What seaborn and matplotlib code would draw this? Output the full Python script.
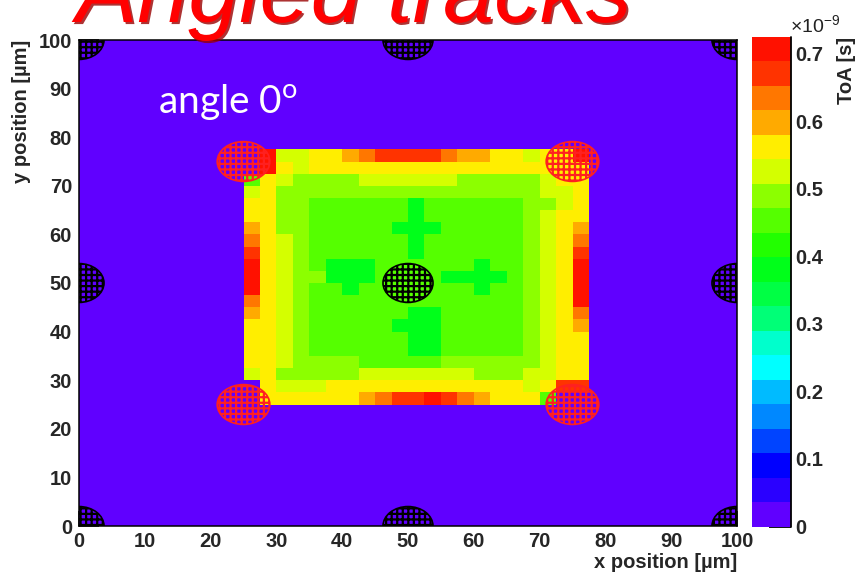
import numpy as np
import matplotlib
matplotlib.use("Agg")
import matplotlib.pyplot as plt
import matplotlib.patheffects as pe
from matplotlib.colors import ListedColormap
from matplotlib.patches import Ellipse
import seaborn as sns

# Binning of the map (µm)
BIN_UM = 2.5
N_BINS = 40
PIXEL_X0_UM = 25.0
PIXEL_Y0_UM = 25.0

# Time of arrival per 2.5 µm bin, in ns; rows run from y = 77.5 µm (top) down to y = 25 µm
toa_ns = [
    [0.00, 0.71, 0.52, 0.52, 0.56, 0.56, 0.60, 0.63, 0.67, 0.67, 0.67, 0.67, 0.63, 0.60, 0.60, 0.56, 0.56, 0.52, 0.56, 0.56, 0.71],
    [0.00, 0.71, 0.56, 0.52, 0.56, 0.56, 0.56, 0.56, 0.56, 0.56, 0.56, 0.56, 0.56, 0.56, 0.56, 0.56, 0.56, 0.56, 0.56, 0.56, 0.56],
    [0.45, 0.56, 0.52, 0.49, 0.49, 0.49, 0.49, 0.52, 0.52, 0.52, 0.52, 0.52, 0.52, 0.49, 0.49, 0.49, 0.49, 0.49, 0.52, 0.56, 0.56],
    [0.52, 0.56, 0.49, 0.49, 0.49, 0.49, 0.49, 0.49, 0.49, 0.49, 0.49, 0.49, 0.49, 0.49, 0.49, 0.49, 0.49, 0.49, 0.52, 0.52, 0.56],
    [0.56, 0.56, 0.49, 0.49, 0.45, 0.45, 0.45, 0.45, 0.45, 0.45, 0.39, 0.45, 0.45, 0.45, 0.45, 0.45, 0.45, 0.49, 0.49, 0.52, 0.56],
    [0.56, 0.56, 0.49, 0.49, 0.45, 0.45, 0.45, 0.45, 0.45, 0.45, 0.39, 0.45, 0.45, 0.45, 0.45, 0.45, 0.45, 0.49, 0.52, 0.56, 0.56],
    [0.60, 0.56, 0.49, 0.49, 0.45, 0.45, 0.45, 0.45, 0.45, 0.39, 0.39, 0.39, 0.45, 0.45, 0.45, 0.45, 0.45, 0.49, 0.52, 0.56, 0.60],
    [0.63, 0.56, 0.52, 0.49, 0.45, 0.45, 0.45, 0.45, 0.45, 0.45, 0.39, 0.45, 0.45, 0.45, 0.45, 0.45, 0.45, 0.49, 0.52, 0.56, 0.63],
    [0.67, 0.56, 0.52, 0.49, 0.45, 0.45, 0.45, 0.45, 0.45, 0.45, 0.39, 0.45, 0.45, 0.45, 0.45, 0.45, 0.45, 0.49, 0.52, 0.56, 0.67],
    [0.71, 0.56, 0.52, 0.49, 0.45, 0.39, 0.39, 0.39, 0.45, 0.45, 0.45, 0.45, 0.45, 0.45, 0.39, 0.45, 0.45, 0.49, 0.52, 0.56, 0.71],
    [0.71, 0.56, 0.52, 0.49, 0.49, 0.39, 0.39, 0.39, 0.45, 0.45, 0.45, 0.45, 0.39, 0.39, 0.39, 0.39, 0.45, 0.49, 0.52, 0.56, 0.71],
    [0.71, 0.56, 0.52, 0.49, 0.45, 0.45, 0.39, 0.45, 0.45, 0.45, 0.45, 0.45, 0.45, 0.45, 0.39, 0.45, 0.45, 0.49, 0.52, 0.56, 0.71],
    [0.63, 0.56, 0.52, 0.49, 0.45, 0.45, 0.45, 0.45, 0.45, 0.45, 0.45, 0.45, 0.45, 0.45, 0.45, 0.45, 0.45, 0.49, 0.52, 0.56, 0.71],
    [0.60, 0.56, 0.52, 0.49, 0.45, 0.45, 0.45, 0.45, 0.45, 0.45, 0.39, 0.39, 0.45, 0.45, 0.45, 0.45, 0.45, 0.49, 0.52, 0.56, 0.63],
    [0.56, 0.56, 0.52, 0.49, 0.45, 0.45, 0.45, 0.45, 0.45, 0.39, 0.39, 0.39, 0.45, 0.45, 0.45, 0.45, 0.45, 0.49, 0.52, 0.56, 0.60],
    [0.56, 0.56, 0.52, 0.49, 0.45, 0.45, 0.45, 0.45, 0.45, 0.45, 0.39, 0.39, 0.45, 0.45, 0.45, 0.45, 0.45, 0.49, 0.52, 0.56, 0.56],
    [0.56, 0.56, 0.52, 0.49, 0.45, 0.45, 0.45, 0.45, 0.45, 0.45, 0.39, 0.39, 0.45, 0.45, 0.45, 0.45, 0.45, 0.49, 0.52, 0.56, 0.56],
    [0.56, 0.56, 0.52, 0.49, 0.49, 0.49, 0.49, 0.45, 0.45, 0.45, 0.45, 0.45, 0.49, 0.49, 0.49, 0.49, 0.49, 0.49, 0.52, 0.56, 0.56],
    [0.52, 0.56, 0.49, 0.49, 0.49, 0.49, 0.49, 0.52, 0.52, 0.52, 0.52, 0.52, 0.52, 0.52, 0.49, 0.49, 0.49, 0.52, 0.52, 0.56, 0.56],
    [0.00, 0.56, 0.52, 0.52, 0.52, 0.56, 0.56, 0.56, 0.56, 0.56, 0.56, 0.56, 0.56, 0.56, 0.56, 0.56, 0.56, 0.52, 0.56, 0.67, 0.67],
    [0.00, 0.56, 0.56, 0.56, 0.56, 0.56, 0.56, 0.60, 0.63, 0.67, 0.67, 0.71, 0.67, 0.63, 0.60, 0.56, 0.56, 0.56, 0.45, 0.00, 0.00],
]

# 20-level rainbow palette, lowest level first
level_colors = [
    "#6000ff", "#2a00ff", "#0000ff", "#0044ff", "#0088ff",
    "#00bbff", "#00ffff", "#00ffcc", "#00ff77", "#00ff44",
    "#00ff1a", "#22ff00", "#55ff00", "#8cff00", "#d4ff00",
    "#ffee00", "#ffaa00", "#ff7700", "#ff3300", "#ff1100",
]
toa_max_ns = 0.725

cbar_ticks = [0.0, 0.1, 0.2, 0.3, 0.4, 0.5, 0.6, 0.7]
cbar_ticklabels = ["0", "0.1", "0.2", "0.3", "0.4", "0.5", "0.6", "0.7"]
axis_ticks_um = [0, 10, 20, 30, 40, 50, 60, 70, 80, 90, 100]
axis_ticklabels = [str(t) for t in axis_ticks_um]

# Bump-bond positions (µm)
bumps_black = [(0, 0), (50, 0), (100, 0), (0, 50), (50, 50), (100, 50),
               (0, 100), (50, 100), (100, 100)]
bumps_red = [(25, 25), (75, 25), (25, 75), (75, 75)]

# Full 100 x 100 µm map, row 0 at y = 0
toa_map = np.zeros((N_BINS, N_BINS))
pixel = np.array(toa_ns)[::-1]
r0 = int(PIXEL_Y0_UM / BIN_UM)
c0 = int(PIXEL_X0_UM / BIN_UM)
toa_map[r0:r0 + pixel.shape[0], c0:c0 + pixel.shape[1]] = pixel

sns.set_theme(style="white")
plt.rcParams["font.family"] = ["Liberation Sans", "DejaVu Sans"]
plt.rcParams["hatch.linewidth"] = 1.6

W, H = 862, 576
fig = plt.figure(figsize=(W / 100, H / 100), dpi=100)
ax = fig.add_axes([79 / W, 50 / H, 658 / W, 486 / H])
cax = fig.add_axes([752 / W, 49.5 / H, 39 / W, 489.5 / H])

sns.heatmap(toa_map, ax=ax, cbar_ax=cax, cmap=ListedColormap(level_colors),
            vmin=0, vmax=toa_max_ns, xticklabels=False, yticklabels=False)
ax.set_xlim(0, N_BINS)
ax.set_ylim(0, N_BINS)


def to_bin(v):
    return np.asarray(v, dtype=float) / BIN_UM


# Axis ticks in µm
ax.set_xticks(to_bin(axis_ticks_um))
ax.set_xticklabels(axis_ticklabels, rotation=0)
ax.set_yticks(to_bin(axis_ticks_um))
ax.set_yticklabels(axis_ticklabels, rotation=0)
ax.set_xticks(to_bin(np.arange(0, 101, 2)), minor=True)
ax.set_yticks(to_bin(np.arange(0, 101, 2)), minor=True)
ax.tick_params(which="both", direction="in", bottom=True, left=True,
               top=False, right=False, color="black", width=1.1)
ax.tick_params(axis="x", which="major", length=10.5, pad=4, labelsize=14.5)
ax.tick_params(axis="x", which="minor", length=5.2)
ax.tick_params(axis="y", which="major", length=14.5, pad=5, labelsize=14.5)
ax.tick_params(axis="y", which="minor", length=7.2)
for lbl in ax.get_xticklabels() + ax.get_yticklabels():
    lbl.set_fontweight("bold")
for sp in ax.spines.values():
    sp.set_visible(True)
    sp.set_color("black")
    sp.set_linewidth(1.1)
    sp.set_zorder(5)

# Bump-bond markers
for (x, y) in bumps_black:
    ax.add_patch(Ellipse((to_bin(x), to_bin(y)), to_bin(7.6), to_bin(8.0),
                         facecolor="none", edgecolor="black", hatch="+++",
                         lw=1.2, zorder=3))
for (x, y) in bumps_red:
    ax.add_patch(Ellipse((to_bin(x), to_bin(y)), to_bin(8.0), to_bin(8.2),
                         facecolor="none", edgecolor="#ff2020", hatch="+++",
                         lw=1.2, zorder=3))

# Colour scale
cbar = ax.collections[0].colorbar
cbar.set_ticks(cbar_ticks)
cbar.set_ticklabels(cbar_ticklabels)
cbar.outline.set_visible(False)
cax.yaxis.set_ticks_position("right")
cax.tick_params(axis="y", direction="in", length=16, width=1.3, pad=3,
                labelsize=14.5, color="black")
for lbl in cax.get_yticklabels():
    lbl.set_fontweight("bold")
cax.plot([1, 1], [0, 1], transform=cax.transAxes, color="black", lw=1.3,
         clip_on=False)

# Labels
fig.text(737 / W, 1 - 563 / H, "x position [µm]", ha="right", va="center",
         fontsize=14.5, fontweight="bold")
fig.text(22 / W, 1 - 40 / H, "y position [µm]", ha="center", va="top",
         rotation=90, fontsize=14.5, fontweight="bold")
fig.text(847 / W, 1 - 37 / H, "ToA [s]", ha="center", va="top",
         rotation=90, fontsize=14.5, fontweight="bold")
fig.text(790 / W, 1 - 33 / H, "×10$^{\\mathregular{-9}}$", ha="left",
         va="baseline", fontsize=14, color="#222222")

fig.text(354 / W, 1 - 22 / H, "Angled tracks", ha="center", va="baseline",
         fontsize=66, style="italic", color="#ff0000",
         path_effects=[pe.withSimplePatchShadow(offset=(1.5, -1.5),
                                                shadow_rgbFace="#990000",
                                                alpha=0.8)])
fig.text(158 / W, 1 - 113 / H, "angle 0$^{\\mathregular{o}}$", ha="left",
         va="baseline", fontsize=28, color="white", family=["Lato", "DejaVu Sans"])

fig.savefig("out.png", dpi=100)
